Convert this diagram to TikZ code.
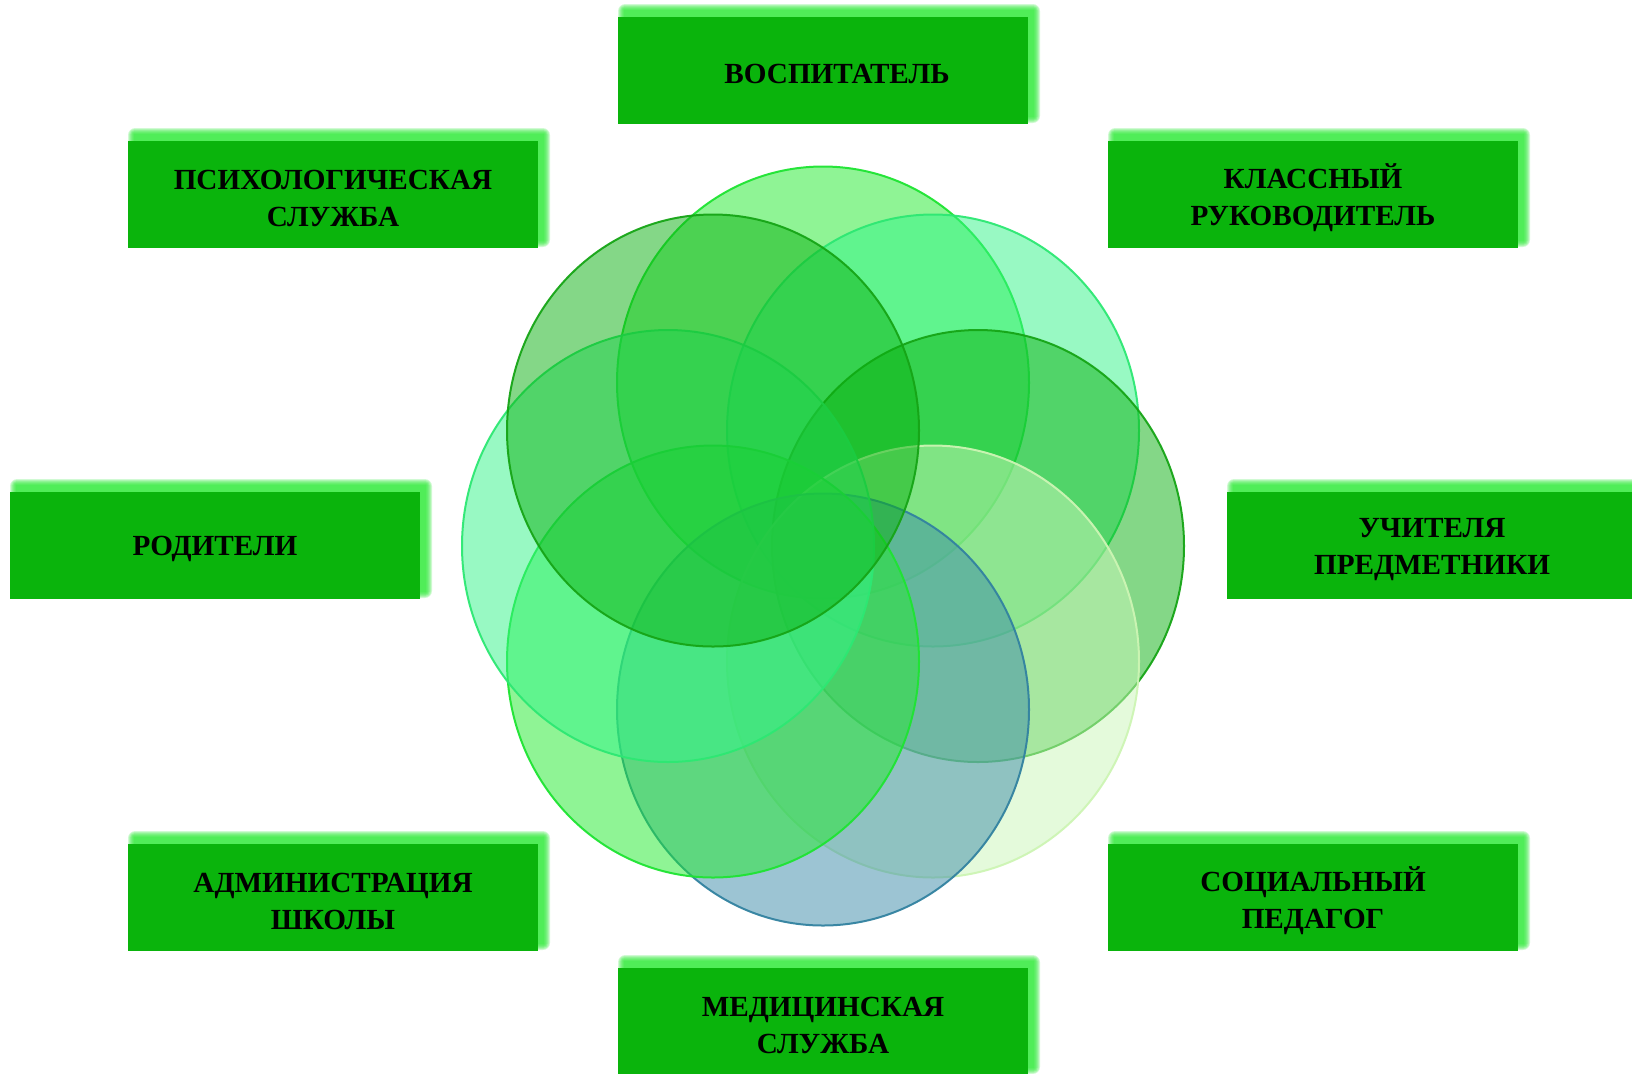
\documentclass[tikz,border=0pt]{standalone}
\usepackage{fontspec}
\setmainfont{Liberation Serif}
\definecolor{boxgreen}{RGB}{10,180,12}
\definecolor{glowgreen}{RGB}{45,235,55}
\definecolor{fillA}{RGB}{33,235,45}
\definecolor{lineA}{RGB}{30,228,50}
\definecolor{fillB}{RGB}{51,245,137}
\definecolor{lineB}{RGB}{45,232,115}
\definecolor{fillC}{RGB}{11,177,17}
\definecolor{lineC}{RGB}{22,165,22}
\definecolor{fillD}{RGB}{203,247,185}
\definecolor{lineD}{RGB}{205,245,180}
\definecolor{fillE}{RGB}{59,139,169}
\definecolor{lineE}{RGB}{50,130,160}
\tikzset{
  rolebox/.style={fill=boxgreen, minimum width=205pt, minimum height=53.5pt,
    inner sep=0pt},
  roletext/.style={align=center, text=black, inner sep=0pt, yshift=-1.8pt,
    font=\fontsize{14.6}{18.5}\selectfont\bfseries},
  glowlayer/.style={fill=glowgreen, opacity=0.22},
  petal/.style={line width=1pt, fill opacity=0.5, draw opacity=0.95},
}
% glow behind a box centred at (#1,#2) in px
\newcommand\glowat[2]{%
  \foreach \e in {0,1,...,6}{%
    \fill[glowlayer, rounded corners={\e*0.6pt}]
      ({#1+6-205-\e},{#2-7-53.5-\e}) rectangle ({#1+6+205+\e},{#2-7+53.5+\e});
  }%
}
\begin{document}
\begin{tikzpicture}[x=0.5pt,y=-0.5pt]
\clip (0,0) rectangle (1632,1073);
\fill[white] (0,0) rectangle (1632,1073);

% petals
\draw[petal, fill=fillA, draw=lineA] (823,382.5) ellipse [x radius=103pt, y radius=108pt];
\draw[petal, fill=fillB, draw=lineB] (933,430.5) ellipse [x radius=103pt, y radius=108pt];
\draw[petal, fill=fillC, draw=lineC] (978,546) ellipse [x radius=103pt, y radius=108pt];
\draw[petal, fill=fillD, draw=lineD] (933,661.5) ellipse [x radius=103pt, y radius=108pt];
\draw[petal, fill=fillE, draw=lineE] (823,709.5) ellipse [x radius=103pt, y radius=108pt];
\draw[petal, fill=fillA, draw=lineA] (713,661.5) ellipse [x radius=103pt, y radius=108pt];
\draw[petal, fill=fillB, draw=lineB] (668,546) ellipse [x radius=103pt, y radius=108pt];
\draw[petal, fill=fillC, draw=lineC] (713,430.5) ellipse [x radius=103pt, y radius=108pt];

% boxes
\glowat{823}{70.5}
\node[rolebox] (vosp) at (823,70.5) {};
\node[roletext] (vospT) at (vosp.center) {\hspace*{14pt}ВОСПИТАТЕЛЬ};
\glowat{333}{194.5}
\node[rolebox] (psych) at (333,194.5) {};
\node[roletext] (psychT) at (psych.center) {ПСИХОЛОГИЧЕСКАЯ\\СЛУЖБА};
\glowat{1313}{194.5}
\node[rolebox] (klass) at (1313,194.5) {};
\node[roletext] (klassT) at (klass.center) {КЛАССНЫЙ\\РУКОВОДИТЕЛЬ};
\glowat{215}{545.5}
\node[rolebox] (rod) at (215,545.5) {};
\node[roletext] (rodT) at (rod.center) {РОДИТЕЛИ};
\glowat{1432}{545.5}
\node[rolebox] (uch) at (1432,545.5) {};
\node[roletext] (uchT) at (uch.center) {УЧИТЕЛЯ\\ПРЕДМЕТНИКИ};
\glowat{333}{897.5}
\node[rolebox] (adm) at (333,897.5) {};
\node[roletext] (admT) at (adm.center) {АДМИНИСТРАЦИЯ\\ШКОЛЫ};
\glowat{1313}{897.5}
\node[rolebox] (soc) at (1313,897.5) {};
\node[roletext] (socT) at (soc.center) {СОЦИАЛЬНЫЙ\\ПЕДАГОГ};
\glowat{823}{1021.5}
\node[rolebox] (med) at (823,1021.5) {};
\node[roletext] (medT) at (med.center) {МЕДИЦИНСКАЯ\\СЛУЖБА};
\end{tikzpicture}
\end{document}
